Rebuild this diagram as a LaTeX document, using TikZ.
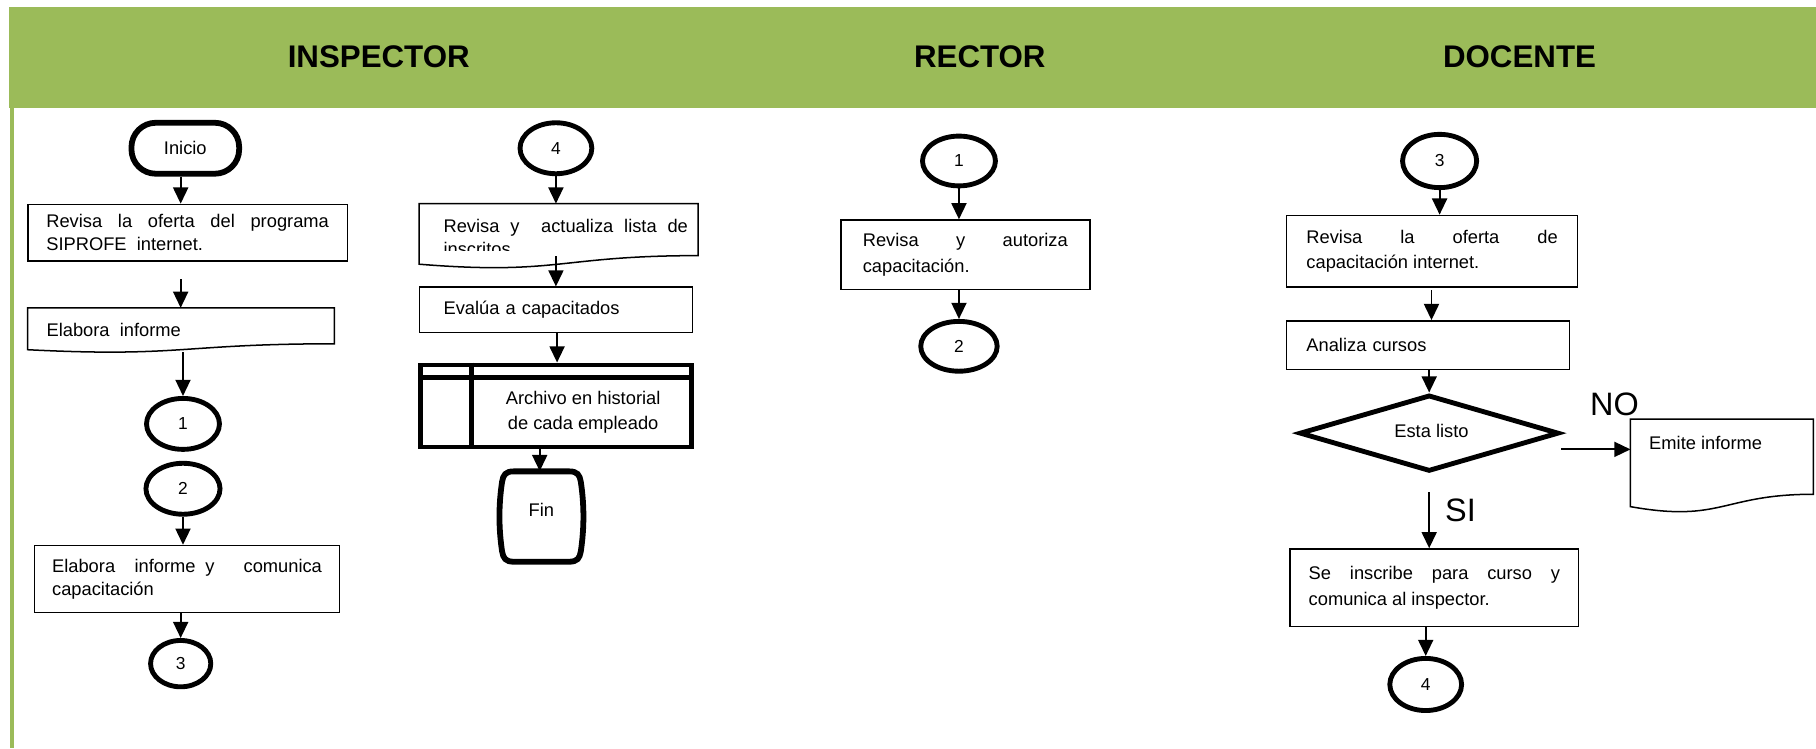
\documentclass[tikz,border=0pt]{standalone}
\usepackage{fontspec}
\setmainfont{Liberation Sans}
\usetikzlibrary{arrows.meta,shapes.geometric,calc}
\definecolor{hdrgreen}{HTML}{9BBB59}
\hyphenpenalty=10000
\exhyphenpenalty=10000
\tolerance=10000
\hbadness=10000

\tikzset{
  txt/.style={font=\fontsize{15.8}{20}\selectfont},
  txtw/.style={font=\fontsize{15.8}{22}\selectfont},
  procbox/.style={draw, line width=1.3pt, rectangle, inner xsep=16pt, inner ysep=0pt, align=justify},
  conn/.style={draw, ellipse, line width=4.2pt, inner sep=0pt, font=\fontsize{15}{16}\selectfont},
  frame/.style={rectangle, inner sep=0pt},
  doclin/.style={draw, line width=1.3pt},
  arr/.style={line width=1.6pt, -{Triangle[width=13pt,length=14pt]}},
  lanehead/.style={font=\fontsize{27}{30}\selectfont\bfseries},
  answer/.style={font=\fontsize{28}{30}\selectfont},
}

% outline of a document symbol: straight top, wavy bottom
\newcommand\docframe[3]{% node name, width, full height
  \begin{scope}[shift={(#1.north west)}]
    \draw[doclin] (0,0) -- (#2,0) -- (#2,{0.802*#3})
      .. controls ({0.5*#2},{0.802*#3}) and ({0.5*#2},{1.108*#3}) .. (0,{0.934*#3}) -- cycle;
  \end{scope}}

\begin{document}
\begin{tikzpicture}[x=1pt,y=-1pt]
\useasboundingbox (0,0) rectangle (1568,646);

% header band and lane border
\fill[hdrgreen] (8,6) rectangle (1568,93);
\draw[hdrgreen, line width=3.5pt] (10,93) -- (10,646);
\node[lanehead] (hinsp) at (327,49) {INSPECTOR};
\node[lanehead] (hrect) at (846,49) {RECTOR};
\node[lanehead] (hdoc)  at (1312,49) {DOCENTE};

% ---------------- INSPECTOR, first column
\node[draw, line width=5pt, rectangle, rounded corners=21pt, minimum width=93pt,
      minimum height=44pt, txt] (inicio) at (160,128) {Inicio};
\node[procbox, txt, text width=244pt, minimum height=49pt] (b1) at (162,201)
  {Revisa la oferta del programa\linebreak SIPROFE\ \ internet.};
\node[frame, minimum width=265pt, minimum height=31pt] (d1) at (156.5,281.5) {};
\docframe{d1}{265}{38.7}
\node[txt, anchor=west, inner sep=0pt] (d1t) at (40,285) {Elabora\ \ informe};
\node[conn, minimum width=63pt, minimum height=44pt] (c1a) at (158,366) {1};
\node[conn, minimum width=64pt, minimum height=44pt] (c2a) at (158,422) {2};
\node[procbox, txt, text width=233pt, minimum height=58pt, inner xsep=15pt] (b2) at (161.5,500)
  {Elabora\ \ informe\ y\ \ \ comunica\linebreak capacitación};
\node[conn, minimum width=52pt, minimum height=40pt] (c3a) at (156,573) {3};

\draw[arr] (inicio.south -| 156,0) -- (b1.north -| 156,0);
\draw[arr, shorten <=15pt] (b1.south -| 156,0) -- (d1.north -| 156,0);
\draw[arr, shorten <=7pt] (d1.south -| c1a.north) -- (c1a.north);
\draw[arr] (c2a.south) -- (b2.north -| c2a.south);
\draw[arr] (b2.south -| c3a.north) -- (c3a.north);

% ---------------- INSPECTOR, second column
\node[conn, minimum width=62pt, minimum height=44pt] (c4a) at (480,128) {4};
\node[frame, minimum width=241pt, minimum height=45pt] (d2) at (482.5,198.5) {};
\docframe{d2}{241}{56}
\begin{scope}
  \clip (d2.north west) rectangle ([yshift=-40.5pt]d2.north east);
  \node[txt, text width=211pt, align=justify, inner sep=0pt, anchor=north west]
    (d2t) at ([xshift=21pt,yshift=-13.5pt]d2.north west)
    {Revisa y\ \ actualiza lista de\linebreak inscritos};
\end{scope}
\node[procbox, txt, text width=194pt, inner xsep=21pt, minimum height=39pt, align=left]
  (b3) at (480,267.5) {Evalúa a capacitados};
\node[draw, line width=4pt, rectangle, minimum width=234pt, minimum height=71pt, inner sep=0pt]
  (tbl) at (480,350.5) {};
\draw[line width=4pt] ([yshift=-13pt]tbl.north west) -- ([yshift=-13pt]tbl.north east);
\draw[line width=4pt] ([xshift=46pt]tbl.north west) -- ([xshift=46pt]tbl.south west);
\node[align=center, font=\fontsize{15.8}{22}\selectfont] (tblt) at (503.5,356)
  {Archivo en historial\\de cada empleado};
\node[frame, minimum width=69pt, minimum height=78pt] (fin) at (467.5,446) {};
\begin{scope}[shift={(fin.center)}]
  \draw[line width=5pt] (-24,-39) -- (24,-39)
    .. controls (31,-39) and (33,-36) .. (34,-30)
    .. controls (37,-10) and (37,10) .. (34,30)
    .. controls (33,36) and (31,39) .. (24,39) -- (-24,39)
    .. controls (-31,39) and (-33,36) .. (-34,30)
    .. controls (-37,10) and (-37,-10) .. (-34,-30)
    .. controls (-33,-36) and (-31,-39) .. (-24,-39) -- cycle;
\end{scope}
\node[txt] (fint) at ([yshift=6pt]fin.center) {Fin};

\draw[arr] (c4a.south) -- (d2.north -| c4a.south);
\draw[arr] (d2.south -| b3.north) -- (b3.north);
\draw[arr] (b3.south -| 481,0) -- (tbl.north -| 481,0);
\draw[arr] (tbl.south -| 466,0) -- (fin.north -| 466,0);

% ---------------- RECTOR
\node[conn, minimum width=63pt, minimum height=43pt] (c1b) at (828,139) {1};
\node[procbox, txtw, text width=177pt, inner xsep=19pt, minimum height=60pt] (b4) at (833.5,220)
  {Revisa y autoriza\linebreak capacitación.};
\node[conn, minimum width=66pt, minimum height=43pt] (c2b) at (828,299) {2};
\draw[arr] (c1b.south) -- (b4.north -| c1b.south);
\draw[arr] (b4.south -| c2b.north) -- (c2b.north);

% ---------------- DOCENTE
\node[conn, minimum width=64pt, minimum height=46pt] (c3b) at (1243,139) {3};
\node[procbox, txtw, text width=217pt, inner xsep=17pt, minimum height=62pt] (b5) at (1236.5,217)
  {Revisa la oferta de\linebreak capacitación internet.};
\node[procbox, txt, text width=210pt, inner xsep=17pt, minimum height=42pt, align=left]
  (b6) at (1233,298) {Analiza cursos};
\node[draw, diamond, line width=4.2pt, minimum width=224pt, minimum height=66pt, inner sep=0pt, txt]
  (dia) at (1234,374) {};
\node[txt] (diat) at (1236,372) {Esta listo};
\node[frame, minimum width=158pt, minimum height=65pt] (emit) at (1487,394.5) {};
\docframe{emit}{158}{81}
\node[txt, anchor=north west, inner sep=0pt] (emitt) at ([xshift=16pt,yshift=-15pt]emit.north west)
  {Emite informe};
\node[procbox, txtw, text width=217pt, inner xsep=16pt, minimum height=67pt] (b7) at (1238.5,507.5)
  {Se inscribe para curso y\linebreak comunica al inspector.};
\node[conn, minimum width=62pt, minimum height=45pt] (c4b) at (1231,591) {4};
\node[answer] (lno) at (1394,349) {NO};
\node[answer] (lsi) at (1261,441) {SI};

\draw[arr] (c3b.south) -- (b5.north -| c3b.south);
\draw[arr, shorten <=2pt] (b5.south -| 1236,0) -- (b6.north -| 1236,0);
\draw[arr] (b6.south -| dia.north) -- (dia.north);
\draw[arr] ([yshift=-14pt]dia.east) -- ([yshift=-14pt]dia.east -| emit.west);
\draw[arr, shorten <=16pt] (dia.south) -- (b7.north -| dia.south);
\draw[arr] (b7.south -| c4b.north) -- (c4b.north);
\end{tikzpicture}
\end{document}
